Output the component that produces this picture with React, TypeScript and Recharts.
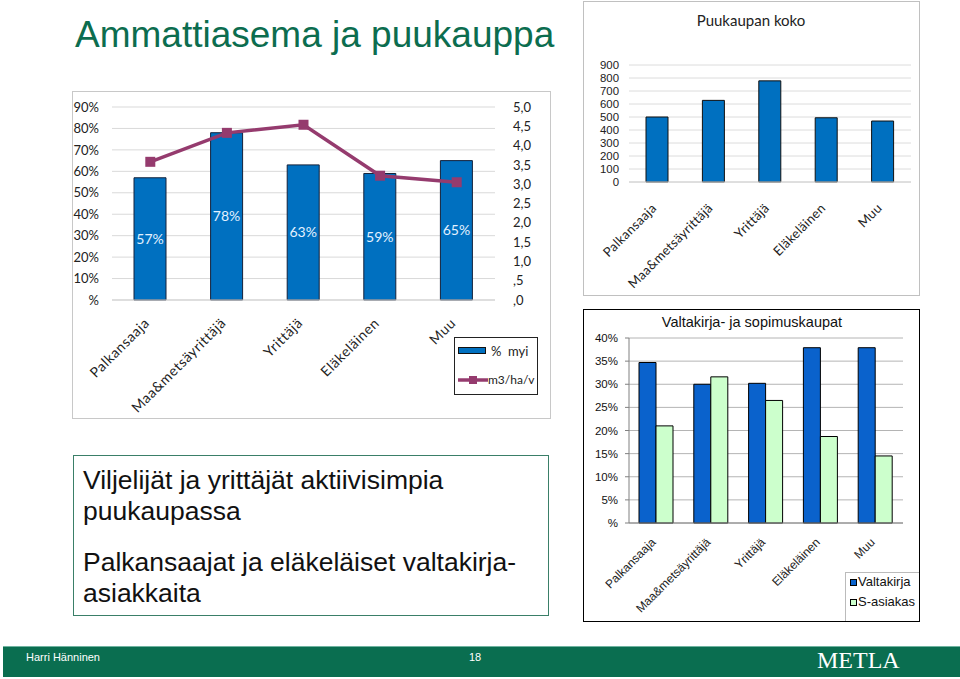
import React from 'react';
import { ComposedChart, BarChart, Bar, Line, XAxis, YAxis, CartesianGrid, LabelList } from 'recharts';

// ammattiasema (occupation) categories
const categories = ['Palkansaaja', 'Maa&metsäyrittäjä', 'Yrittäjä', 'Eläkeläinen', 'Muu'];

// chart 1: share of owners who sold (%) and cut m3/ha/v
const myiPct = [57, 78, 63, 59, 65];
const m3haV = [3.58, 4.33, 4.54, 3.22, 3.05];
const pctTicks = [0, 10, 20, 30, 40, 50, 60, 70, 80, 90];
const m3Ticks = [0, 0.5, 1, 1.5, 2, 2.5, 3, 3.5, 4, 4.5, 5];

// chart 2: puukaupan koko (m3)
const kaupanKoko = [500, 628, 778, 494, 469];
const kokoTicks = [0, 100, 200, 300, 400, 500, 600, 700, 800, 900];

// chart 3: valtakirja- ja sopimuskaupat (%)
const valtakirja = [34.7, 30.0, 30.2, 37.9, 37.9];
const sAsiakas = [21.0, 31.6, 26.5, 18.7, 14.5];
const vkTicks = [0, 5, 10, 15, 20, 25, 30, 35, 40];

const data1 = categories.map((name, i) => ({ name, myi: myiPct[i], m3: m3haV[i] }));
const data2 = categories.map((name, i) => ({ name, koko: kaupanKoko[i] }));
const data3 = categories.map((name, i) => ({ name, valtakirja: valtakirja[i], sasiakas: sAsiakas[i] }));

const CAL = 'Lato, "Open Sans", sans-serif';
const ARIAL = '"Liberation Sans", Arial, sans-serif';
const BLUE = '#0070C0';
const LINE_COLOR = '#953B6E';
const GREEN_DARK = '#0a6e50';

const pctFmt = (v: number) => (v === 0 ? '%' : `${v}%`);
const commaFmt = (v: number) => v.toFixed(1).replace('.', ',').replace(/^0/, '');

const SlantTick = ({ x, y, payload, dy = 20, fontSize = 13, fontFamily = CAL, spacing = 0 }: any) => (
  <g transform={`translate(${x},${y + dy})`}>
    <text textAnchor="end" transform="rotate(-45)" fontSize={fontSize} fontFamily={fontFamily} fill="#222"
      letterSpacing={spacing}>
      {payload.value}
    </text>
  </g>
);

const SquareDot = (props: any) => {
  const { cx, cy, index } = props;
  if (cx == null || cy == null) return <g key={index} />;
  return <rect key={index} x={cx - 5} y={cy - 5} width={10} height={10} fill={LINE_COLOR} />;
};

const abs = (left: number, top: number, width: number, height: number): React.CSSProperties => ({
  position: 'absolute', left, top, width, height, boxSizing: 'border-box',
});

function AmmattiChart() {
  return (
    <ComposedChart width={478} height={327} data={data1} margin={{ top: 16, right: 10, bottom: 18, left: 0 }}>
      <CartesianGrid vertical={false} stroke="#d9d9d9" yAxisId="left" />
      <XAxis dataKey="name" interval={0} height={100} tickSize={0} tickMargin={0} axisLine={{ stroke: '#d0d0d0' }}
        tick={(p: any) => <SlantTick {...p} dy={24} fontSize={14} spacing={0.6} />} />
      <YAxis yAxisId="left" domain={[0, 90]} ticks={pctTicks} interval={0} tickFormatter={pctFmt} width={40}
        axisLine={false} tickLine={false} tickMargin={7} tick={{ fontSize: 13, fontFamily: CAL, fill: '#222' }} />
      <YAxis yAxisId="right" orientation="right" domain={[0, 5]} ticks={m3Ticks} interval={0} tickFormatter={commaFmt}
        width={45} axisLine={false} tickLine={false} tickMargin={12} tick={{ fontSize: 13, fontFamily: CAL, fill: '#222' }} />
      <Bar yAxisId="left" dataKey="myi" fill={BLUE} stroke="#14213a" strokeWidth={1} barSize={32} isAnimationActive={false}>
        <LabelList dataKey="myi" position="center" formatter={(v: any) => `${v}%`} fill="#e3f1ff" fontSize={14} fontFamily={CAL} />
      </Bar>
      <Line yAxisId="right" dataKey="m3" stroke={LINE_COLOR} strokeWidth={3.5} dot={SquareDot} activeDot={false}
        isAnimationActive={false} />
    </ComposedChart>
  );
}

function KokoChart() {
  return (
    <BarChart width={336} height={294} data={data2} margin={{ top: 64, right: 8, bottom: 0, left: 0 }}>
      <CartesianGrid vertical={false} stroke="#dcdcdc" />
      <XAxis dataKey="name" interval={0} height={113} tickSize={0} tickMargin={0} axisLine={{ stroke: '#d0d0d0' }}
        tick={(p: any) => <SlantTick {...p} dy={27} fontSize={13} spacing={0.3} />} />
      <YAxis domain={[0, 900]} ticks={kokoTicks} interval={0} width={46} axisLine={false} tickLine={false} tickMargin={4}
        tick={{ fontSize: 11.4, fontFamily: ARIAL, fill: '#222' }} />
      <Bar dataKey="koko" fill={BLUE} stroke="#111" strokeWidth={1} barSize={22} isAnimationActive={false} />
    </BarChart>
  );
}

function ValtakirjaChart() {
  return (
    <BarChart width={336} height={312} data={data3} margin={{ top: 29, right: 16, bottom: 0, left: 0 }}
      barGap={0} barCategoryGap="19%">
      <CartesianGrid vertical={false} stroke="#b4b4b4" />
      <XAxis dataKey="name" interval={0} height={98} tickSize={0} tickMargin={0} axisLine={{ stroke: '#808080' }}
        tick={(p: any) => <SlantTick {...p} dy={20} fontSize={12} fontFamily={ARIAL} />} />
      <YAxis domain={[0, 40]} ticks={vkTicks} interval={0} tickFormatter={pctFmt} width={46} axisLine={{ stroke: '#808080' }}
        tickLine={{ stroke: '#808080' }} tickSize={4} tickMargin={7} tick={{ fontSize: 11.5, fontFamily: ARIAL, fill: '#111' }} />
      <Bar dataKey="valtakirja" fill="#0a62cc" stroke="#000" strokeWidth={1} barSize={17} isAnimationActive={false} />
      <Bar dataKey="sasiakas" fill="#ccffcc" stroke="#000" strokeWidth={1} barSize={17} isAnimationActive={false} />
    </BarChart>
  );
}

export default function App() {
  return (
    <div style={{ position: 'absolute', left: 0, top: 0, width: 960, height: 679, background: '#fff', overflow: 'hidden' }}>
      <div style={{ position: 'absolute', left: 75, top: 17, fontFamily: ARIAL, fontSize: 37, lineHeight: '36px', color: '#0c6d4f', whiteSpace: 'nowrap' }}>
        Ammattiasema ja puukauppa
      </div>

      {/* chart 1 */}
      <div style={{ ...abs(72, 91, 479, 328), border: '1px solid #c8c8c8' }} />
      <div style={abs(72, 91, 478, 327)}>
        <AmmattiChart />
      </div>
      <div style={{ ...abs(454, 337, 84, 58), border: '1px solid #222', overflow: 'hidden', background: '#fff', fontFamily: CAL, fontSize: 13, color: '#222' }}>
        <div style={{ position: 'absolute', left: 3, top: 9, width: 28, height: 7, background: BLUE, border: '1px solid #111', boxSizing: 'border-box' }} />
        <div style={{ position: 'absolute', left: 36, top: 3, whiteSpace: 'nowrap', lineHeight: '20px' }}>%&nbsp; myi</div>
        <svg style={{ position: 'absolute', left: 0, top: 34 }} width={36} height={16}>
          <line x1={3} y1={8} x2={33} y2={8} stroke={LINE_COLOR} strokeWidth={3.5} />
          <rect x={14} y={4} width={8} height={8} fill={LINE_COLOR} />
        </svg>
        <div style={{ position: 'absolute', left: 33, top: 32, whiteSpace: 'nowrap', lineHeight: '20px', fontSize: 12 }}>m3/ha/v</div>
      </div>

      {/* chart 2 */}
      <div style={{ ...abs(583, 1, 337, 295), border: '1px solid #c0c0c0' }} />
      <div style={{ position: 'absolute', left: 583, top: 11, width: 336, textAlign: 'center', fontFamily: CAL, fontSize: 15, lineHeight: '18px', color: '#222' }}>
        Puukaupan koko
      </div>
      <div style={abs(583, 1, 336, 294)}>
        <KokoChart />
      </div>

      {/* chart 3 */}
      <div style={{ ...abs(583, 309, 337, 313), border: '1px solid #000' }} />
      <div style={{ position: 'absolute', left: 583, top: 313, width: 338, textAlign: 'center', fontFamily: ARIAL, fontSize: 14.5, lineHeight: '18px', color: '#111' }}>
        Valtakirja- ja sopimuskaupat
      </div>
      <div style={abs(583, 309, 336, 312)}>
        <ValtakirjaChart />
      </div>
      <div style={{ ...abs(845, 572, 74, 49), borderTop: '1px solid #bbb', borderLeft: '1px solid #bbb', background: '#fff', fontFamily: ARIAL, fontSize: 13, color: '#111' }}>
        <div style={{ position: 'absolute', left: 4, top: 6, width: 7, height: 7, background: '#0a62cc', border: '1px solid #000', boxSizing: 'border-box' }} />
        <div style={{ position: 'absolute', left: 12, top: 1, lineHeight: '16px', whiteSpace: 'nowrap' }}>Valtakirja</div>
        <div style={{ position: 'absolute', left: 4, top: 26, width: 7, height: 7, background: '#ccffcc', border: '1px solid #000', boxSizing: 'border-box' }} />
        <div style={{ position: 'absolute', left: 12, top: 21, lineHeight: '16px', whiteSpace: 'nowrap' }}>S-asiakas</div>
      </div>

      {/* text box */}
      <div style={{ ...abs(73, 455, 476, 161), border: '1px solid #3a7f68' }} />
      <div style={{ position: 'absolute', left: 83, top: 465, fontFamily: ARIAL, fontSize: 26.5, lineHeight: '31px', color: '#111', whiteSpace: 'nowrap' }}>
        <div>Viljelijät ja yrittäjät aktiivisimpia</div>
        <div>puukaupassa</div>
        <div style={{ marginTop: 20 }}>Palkansaajat ja eläkeläiset valtakirja-</div>
        <div>asiakkaita</div>
      </div>

      {/* footer */}
      <div style={{ ...abs(3, 646, 957, 31), background: GREEN_DARK, borderTop: '1px solid #6fb3a0' }} />
      <div style={{ position: 'absolute', left: 26, top: 650, fontFamily: ARIAL, fontSize: 11, lineHeight: '14px', color: '#fff' }}>Harri Hänninen</div>
      <div style={{ position: 'absolute', left: 469, top: 650, fontFamily: ARIAL, fontSize: 11, lineHeight: '14px', color: '#fff' }}>18</div>
      <div style={{ position: 'absolute', left: 817, top: 647, fontFamily: '"Liberation Serif", "DejaVu Serif", serif', fontSize: 24, lineHeight: '26px', color: '#fff' }}>METLA</div>
    </div>
  );
}
